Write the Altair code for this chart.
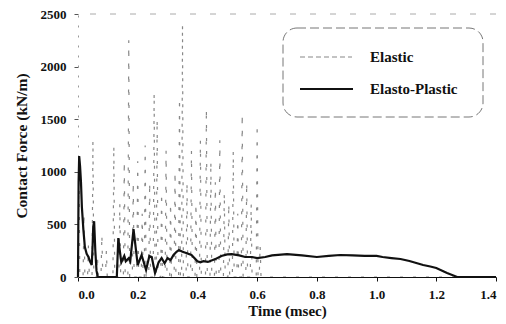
import altair as alt
import pandas as pd

# Elasto-Plastic series (time in msec, contact force kN/m)
ep_t = [0.0, 0.002, 0.004, 0.007, 0.01, 0.013, 0.018, 0.023, 0.029, 0.035, 0.04, 0.046,
        0.049, 0.051, 0.054, 0.058, 0.062, 0.066, 0.13, 0.135, 0.14, 0.145, 0.155, 0.16,
        0.17, 0.175, 0.186, 0.2, 0.213, 0.228, 0.239, 0.247, 0.258, 0.27, 0.28, 0.29,
        0.30, 0.31, 0.32, 0.33, 0.338, 0.35, 0.36, 0.38, 0.40, 0.41, 0.42, 0.435, 0.46,
        0.48, 0.50, 0.515, 0.54, 0.56, 0.583, 0.60, 0.627, 0.65, 0.70, 0.75, 0.80, 0.84,
        0.878, 0.92, 0.96, 1.0, 1.02, 1.05, 1.08, 1.11, 1.156, 1.18, 1.20, 1.236, 1.27, 1.4]
ep_f = [0, 900, 1150, 1050, 900, 665, 450, 285, 220, 190, 150, 114,
        300, 480, 530, 250, 60, 0, 0, 370, 250, 140, 200, 150,
        180, 150, 456, 114, 209, 67, 200, 190, 38, 140, 180, 130,
        180, 160, 210, 240, 257, 240, 230, 210, 150, 140, 150, 143, 170,
        200, 215, 218, 205, 190, 190, 180, 190, 205, 218, 205, 190, 200,
        209, 205, 200, 200, 190, 180, 171, 152, 114, 100, 86, 38, 0, 0]

# Elastic series: rapid narrow spikes (time, force)
el_t = [0.0, 0.003, 0.006, 0.017, 0.02, 0.023, 0.032, 0.035, 0.038, 0.047, 0.05, 0.053,
        0.062, 0.065, 0.068, 0.077, 0.08, 0.083, 0.092, 0.095, 0.098, 0.117, 0.12, 0.123,
        0.137, 0.14, 0.143, 0.152, 0.155, 0.158, 0.167, 0.17, 0.173, 0.182, 0.185, 0.188,
        0.197, 0.20, 0.203, 0.212, 0.215, 0.218, 0.222, 0.225, 0.228, 0.237, 0.24, 0.243,
        0.252, 0.255, 0.258, 0.262, 0.265, 0.268, 0.277, 0.28, 0.283, 0.292, 0.295, 0.298,
        0.307, 0.31, 0.313, 0.322, 0.325, 0.328, 0.337, 0.34, 0.343, 0.347, 0.35, 0.353,
        0.362, 0.365, 0.368, 0.377, 0.38, 0.383, 0.392, 0.395, 0.398, 0.407, 0.41, 0.413,
        0.427, 0.43, 0.433, 0.442, 0.445, 0.448, 0.457, 0.46, 0.463, 0.472, 0.475, 0.478,
        0.487, 0.49, 0.493, 0.502, 0.505, 0.508, 0.517, 0.52, 0.523, 0.532, 0.535, 0.538,
        0.547, 0.55, 0.553, 0.562, 0.565, 0.568, 0.577, 0.58, 0.583, 0.597, 0.60, 0.603,
        0.607, 0.61, 0.613, 1.4]
el_f = [0, 1150, 0, 0, 600, 0, 0, 300, 0, 0, 1300, 0,
        0, 200, 0, 0, 400, 0, 0, 250, 0, 0, 1250, 0,
        0, 700, 0, 0, 1100, 0, 0, 2250, 0, 0, 900, 0,
        0, 1100, 0, 0, 600, 0, 0, 1250, 0, 0, 900, 0,
        0, 1750, 0, 0, 1500, 0, 0, 800, 0, 0, 1200, 0,
        0, 700, 0, 0, 1000, 0, 0, 1700, 0, 0, 2400, 0,
        0, 900, 0, 0, 1200, 0, 0, 700, 0, 0, 1300, 0,
        0, 1600, 0, 0, 1100, 0, 0, 900, 0, 0, 1300, 0,
        0, 800, 0, 0, 700, 0, 0, 1200, 0, 0, 600, 0,
        0, 1550, 0, 0, 900, 0, 0, 700, 0, 0, 1450, 0,
        0, 300, 0, 0]

x_ticks = [0.0, 0.2, 0.4, 0.6, 0.8, 1.0, 1.2, 1.4]
y_ticks = [0, 500, 1000, 1500, 2000, 2500]
legend_labels = ["Elastic", "Elasto-Plastic"]

FONT = "Liberation Serif"

ep_df = pd.DataFrame({"t": ep_t, "f": ep_f})
el_df = pd.DataFrame({"t": el_t, "f": el_f})

xscale = alt.Scale(domain=[0, 1.4], nice=False)
yscale = alt.Scale(domain=[0, 2500], nice=False)

xaxis = alt.Axis(values=x_ticks, format=".1f", title="Time (msec)", grid=False,
                 labelFont=FONT, labelFontWeight="bold", labelFontSize=13, labelColor="#111",
                 titleFont=FONT, titleFontWeight="bold", titleFontSize=15, titleColor="#111",
                 domainColor="#111", tickColor="#111", tickSize=4, labelPadding=7, titlePadding=2)
yaxis = alt.Axis(values=y_ticks, format="d", title="Contact Force (kN/m)", grid=False,
                 labelFont=FONT, labelFontWeight="bold", labelFontSize=13, labelColor="#111",
                 titleFont=FONT, titleFontWeight="bold", titleFontSize=15.5, titleColor="#111",
                 domainColor="#999", domainDash=[2, 8], tickColor="#555", tickSize=4,
                 labelPadding=8, titlePadding=11)

elastic = alt.Chart(el_df).mark_line(color="#888", strokeWidth=1.2, strokeDash=[3, 10], clip=True).encode(
    x=alt.X("t:Q", scale=xscale, axis=xaxis),
    y=alt.Y("f:Q", scale=yscale, axis=yaxis),
    order="t:Q",
)
plastic = alt.Chart(ep_df).mark_line(color="#111", strokeWidth=2.2).encode(
    x=alt.X("t:Q", scale=xscale),
    y=alt.Y("f:Q", scale=yscale),
    order="t:Q",
)

top = alt.Chart(pd.DataFrame({"v": [2500]})).mark_rule(color="#aaa", strokeDash=[6, 14], strokeWidth=1).encode(
    y=alt.Y("v:Q", scale=yscale)
)

one = pd.DataFrame({"a": [0]})
box = alt.Chart(one).mark_rect(fill="white", stroke="#777", strokeDash=[9, 4], strokeWidth=1,
                               cornerRadius=14).encode(
    x=alt.value(205), x2=alt.value(405), y=alt.value(14), y2=alt.value(103))
leg_el = alt.Chart(one).mark_rule(color="#888", strokeDash=[5, 3], strokeWidth=1.2).encode(
    x=alt.value(222), x2=alt.value(274), y=alt.value(43))
leg_ep = alt.Chart(one).mark_rule(color="#111", strokeWidth=2).encode(
    x=alt.value(222), x2=alt.value(275), y=alt.value(75))
txt1 = alt.Chart(pd.DataFrame({"lab": [legend_labels[0]]})).mark_text(
    font=FONT, fontWeight="bold", fontSize=15, align="left", baseline="middle", color="#111").encode(
    text="lab:N", x=alt.value(292), y=alt.value(43))
txt2 = alt.Chart(pd.DataFrame({"lab": [legend_labels[1]]})).mark_text(
    font=FONT, fontWeight="bold", fontSize=15, align="left", baseline="middle", color="#111").encode(
    text="lab:N", x=alt.value(292), y=alt.value(75))

chart = alt.layer(elastic, plastic, top, box, leg_el, leg_ep, txt1, txt2).properties(
    width=418, height=263,
    autosize=alt.AutoSizeParams(type="none"),
    padding={"left": 70, "top": 6, "right": 2, "bottom": 46},
    background="white",
).configure_view(stroke=None)

chart.save("out.html", embed_options={"renderer": "svg", "actions": False})
